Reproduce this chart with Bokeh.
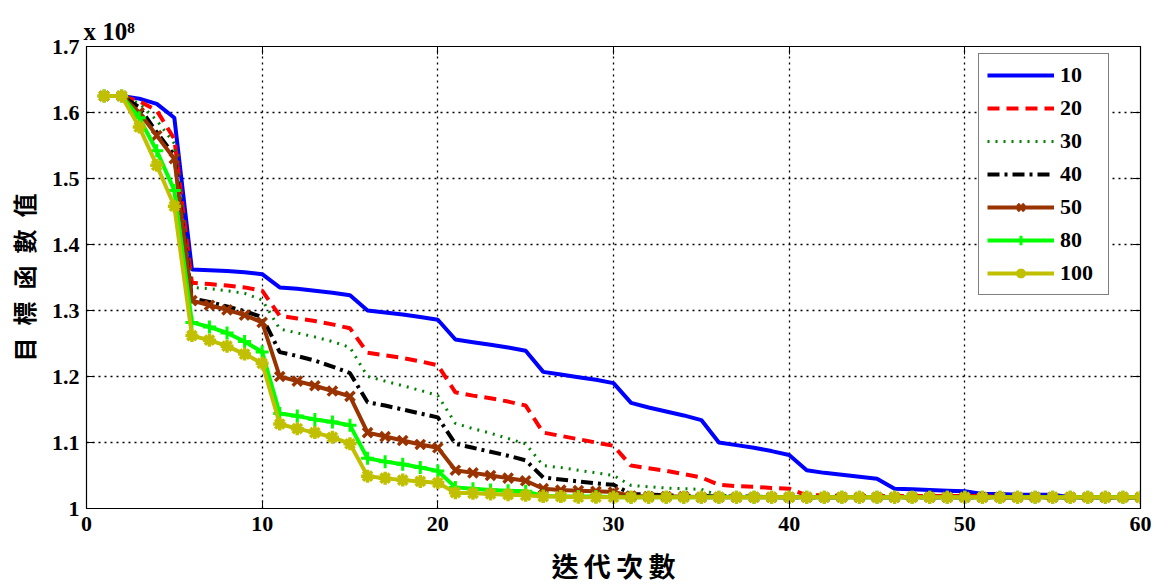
from bokeh.plotting import figure
from bokeh.models import (Range1d, FixedTicker, LinearAxis,
                          CustomJSTickFormatter)
from bokeh.embed import file_html
from bokeh.resources import INLINE

# Objective value (x 10^8) per iteration for each population size
iterations = list(range(1, 61))

obj_10 = [1.625, 1.625, 1.621, 1.613, 1.592,
          1.362, 1.361, 1.360, 1.358, 1.355,
          1.335, 1.333, 1.330, 1.327, 1.323,
          1.300, 1.297, 1.294, 1.290, 1.286,
          1.256, 1.252, 1.248, 1.244, 1.239,
          1.207, 1.203, 1.199, 1.195, 1.190,
          1.160, 1.153, 1.147, 1.141, 1.134,
          1.100, 1.096, 1.092, 1.087, 1.081,
          1.058, 1.054, 1.051, 1.048, 1.045,
          1.030, 1.029, 1.028, 1.027, 1.026,
          1.022, 1.022, 1.021, 1.021, 1.021,
          1.017, 1.017, 1.017, 1.017, 1.017]

obj_20 = [1.625, 1.625, 1.617, 1.603, 1.560,
          1.342, 1.340, 1.338, 1.335, 1.330,
          1.292, 1.288, 1.284, 1.279, 1.273,
          1.236, 1.232, 1.228, 1.223, 1.217,
          1.176, 1.171, 1.167, 1.162, 1.156,
          1.115, 1.110, 1.105, 1.100, 1.095,
          1.065, 1.061, 1.057, 1.052, 1.047,
          1.036, 1.034, 1.033, 1.031, 1.030,
          1.020, 1.020, 1.019, 1.019, 1.019,
          1.019, 1.019, 1.019, 1.019, 1.019,
          1.019, 1.017, 1.017, 1.017, 1.017,
          1.017, 1.017, 1.017, 1.017, 1.017]

obj_30 = [1.625, 1.625, 1.614, 1.588, 1.553,
          1.335, 1.333, 1.330, 1.326, 1.316,
          1.272, 1.266, 1.260, 1.253, 1.244,
          1.200, 1.193, 1.186, 1.179, 1.171,
          1.129, 1.121, 1.114, 1.106, 1.098,
          1.065, 1.062, 1.058, 1.054, 1.050,
          1.035, 1.033, 1.031, 1.030, 1.029,
          1.020, 1.019, 1.019, 1.018, 1.018,
          1.018, 1.018, 1.017, 1.017, 1.017,
          1.017, 1.017, 1.017, 1.017, 1.017,
          1.017, 1.017, 1.017, 1.017, 1.017,
          1.017, 1.017, 1.017, 1.017, 1.017]

obj_40 = [1.625, 1.625, 1.608, 1.570, 1.535,
          1.318, 1.313, 1.306, 1.299, 1.290,
          1.237, 1.231, 1.224, 1.215, 1.205,
          1.161, 1.156, 1.150, 1.144, 1.138,
          1.098, 1.092, 1.086, 1.080, 1.073,
          1.047, 1.044, 1.041, 1.038, 1.036,
          1.022, 1.021, 1.020, 1.019, 1.019,
          1.018, 1.018, 1.018, 1.017, 1.017,
          1.017, 1.017, 1.017, 1.017, 1.017,
          1.017, 1.017, 1.017, 1.017, 1.017,
          1.017, 1.017, 1.017, 1.017, 1.017,
          1.017, 1.017, 1.017, 1.017, 1.017]

obj_50 = [1.625, 1.625, 1.600, 1.565, 1.530,
          1.315, 1.308, 1.301, 1.293, 1.282,
          1.200, 1.193, 1.186, 1.178, 1.170,
          1.115, 1.109, 1.103, 1.097, 1.092,
          1.058, 1.054, 1.050, 1.046, 1.042,
          1.030, 1.028, 1.027, 1.026, 1.025,
          1.019, 1.018, 1.018, 1.018, 1.017,
          1.017, 1.017, 1.017, 1.017, 1.017,
          1.017, 1.017, 1.017, 1.017, 1.017,
          1.017, 1.017, 1.017, 1.017, 1.017,
          1.017, 1.017, 1.017, 1.017, 1.017,
          1.017, 1.017, 1.017, 1.017, 1.017]

obj_80 = [1.625, 1.625, 1.592, 1.542, 1.482,
          1.282, 1.275, 1.266, 1.253, 1.237,
          1.144, 1.140, 1.135, 1.131, 1.126,
          1.076, 1.071, 1.067, 1.062, 1.057,
          1.032, 1.030, 1.028, 1.027, 1.026,
          1.019, 1.018, 1.018, 1.018, 1.017,
          1.017, 1.017, 1.017, 1.017, 1.017,
          1.017, 1.017, 1.017, 1.017, 1.017,
          1.017, 1.017, 1.017, 1.017, 1.017,
          1.017, 1.017, 1.017, 1.017, 1.017,
          1.017, 1.017, 1.017, 1.017, 1.017,
          1.017, 1.017, 1.017, 1.017, 1.017]

obj_100 = [1.625, 1.625, 1.578, 1.520, 1.458,
           1.262, 1.255, 1.246, 1.234, 1.220,
           1.128, 1.121, 1.115, 1.108, 1.098,
           1.049, 1.046, 1.043, 1.041, 1.039,
           1.024, 1.023, 1.022, 1.021, 1.020,
           1.018, 1.018, 1.017, 1.017, 1.017,
           1.017, 1.017, 1.017, 1.017, 1.017,
           1.017, 1.017, 1.017, 1.017, 1.017,
           1.017, 1.017, 1.017, 1.017, 1.017,
           1.017, 1.017, 1.017, 1.017, 1.017,
           1.017, 1.017, 1.017, 1.017, 1.017,
           1.017, 1.017, 1.017, 1.017, 1.017]

series_labels = ["10", "20", "30", "40", "50", "80", "100"]
x_ticks = [0, 10, 20, 30, 40, 50, 60]
y_ticks = [1.0, 1.1, 1.2, 1.3, 1.4, 1.5, 1.6, 1.7]

SERIF = "Liberation Serif"
CJK = "Noto Sans CJK TC"

p = figure(width=1160, height=588, output_backend="svg", toolbar_location=None,
           x_range=Range1d(0, 60), y_range=Range1d(1.0, 1.7),
           min_border_left=86, min_border_right=20,
           min_border_top=46, min_border_bottom=80)

p.background_fill_color = "white"
p.border_fill_color = "white"
p.outline_line_color = "black"
p.outline_line_width = 1.2

# exponent note above the y axis
p.title.text = "x 10\u2078"
p.title.align = "left"
p.title.text_font = SERIF
p.title.text_font_style = "bold"
p.title.text_font_size = "25px"
p.title.text_color = "black"
p.title.offset = -3
p.title.standoff = 3

# axes
xt = FixedTicker(ticks=x_ticks)
yt = FixedTicker(ticks=y_ticks)
p.xaxis.ticker = xt
p.yaxis.ticker = yt
p.yaxis.formatter = CustomJSTickFormatter(
    code="return tick.toFixed(1).replace(/\\.0$/, '');")

for ax in (p.xaxis[0], p.yaxis[0]):
    ax.major_tick_in = 8
    ax.major_tick_out = 0
    ax.minor_tick_line_color = None
    ax.axis_line_color = "black"
    ax.major_tick_line_color = "black"
    ax.major_label_text_font = SERIF
    ax.major_label_text_font_style = "bold"
    ax.major_label_text_font_size = "22px"
    ax.major_label_text_color = "black"
    ax.axis_label_text_font = CJK
    ax.axis_label_text_font_style = "bold"
    ax.axis_label_text_color = "black"

p.xaxis.major_label_standoff = 8
p.yaxis.major_label_standoff = 7
p.xaxis.axis_label = "迭\u2009代\u2009次\u2009數"
p.xaxis.axis_label_text_font_size = "27px"
p.xaxis.axis_label_standoff = 12
p.yaxis.axis_label = "目\u2002標\u2002函\u2002數\u2002值"
p.yaxis.axis_label_text_font_size = "24px"
p.yaxis.axis_label_standoff = 8

# box ticks on the top and right edges (no labels)
blank = CustomJSTickFormatter(code="return '';")
top_ax = LinearAxis(ticker=FixedTicker(ticks=x_ticks), formatter=blank)
right_ax = LinearAxis(ticker=FixedTicker(ticks=y_ticks), formatter=blank)
for ax in (top_ax, right_ax):
    ax.major_tick_in = 8
    ax.major_tick_out = 0
    ax.minor_tick_line_color = None
    ax.major_label_text_alpha = 0
    ax.major_label_text_font_size = "1px"
    ax.major_label_standoff = 0
    ax.axis_line_color = "black"
p.add_layout(top_ax, "above")
p.add_layout(right_ax, "right")

# dotted grid
for g in (p.xgrid[0], p.ygrid[0]):
    g.grid_line_color = "black"
    g.grid_line_dash = "2 4"
    g.grid_line_width = 1.3
p.xgrid.ticker = xt
p.ygrid.ticker = yt

# series
lw = 4
p.line(iterations, obj_10, line_color="#0000ff", line_width=lw,
       legend_label=series_labels[0])
p.line(iterations, obj_20, line_color="#ff0000", line_width=lw,
       line_dash="12 7", legend_label=series_labels[1])
p.line(iterations, obj_30, line_color="#008000", line_width=3,
       line_dash="2 6", legend_label=series_labels[2])
p.line(iterations, obj_40, line_color="black", line_width=lw,
       line_dash="12 5 3 5", legend_label=series_labels[3])
p.line(iterations, obj_50, line_color="#993300", line_width=lw,
       legend_label=series_labels[4])
p.scatter(iterations, obj_50, marker="x", size=13, line_color="#993300",
          line_width=3.5, legend_label=series_labels[4])
p.line(iterations, obj_80, line_color="#00ff00", line_width=lw,
       legend_label=series_labels[5])
p.scatter(iterations, obj_80, marker="cross", size=13, line_color="#00ff00",
          line_width=3, legend_label=series_labels[5])
p.line(iterations, obj_100, line_color="#c0c000", line_width=lw,
       legend_label=series_labels[6])
p.scatter(iterations, obj_100, marker="asterisk", size=13, line_color="#c0c000",
          line_width=3.5, legend_label=series_labels[6])

# legend box
lg = p.legend[0]
lg.location = (892, 213)
lg.border_line_color = "black"
lg.border_line_width = 1.2
lg.background_fill_color = "white"
lg.background_fill_alpha = 1
lg.padding = 8
lg.spacing = 7
lg.glyph_width = 67
lg.glyph_height = 24
lg.label_height = 24
lg.label_width = 40
lg.label_standoff = 6
lg.margin = 0
lg.label_text_font = SERIF
lg.label_text_font_style = "bold"
lg.label_text_font_size = "22px"
lg.label_text_color = "black"

open("out.html", "w").write(file_html(p, INLINE))
